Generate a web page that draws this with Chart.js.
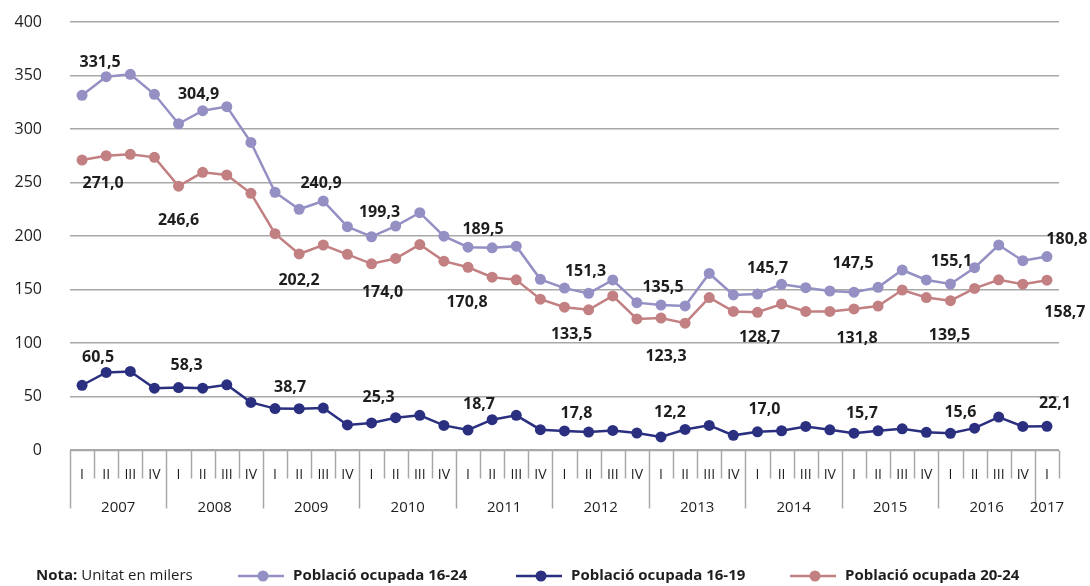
<!DOCTYPE html>
<html>
<head>
<meta charset="utf-8">
<script src="https://cdn.jsdelivr.net/npm/chart.js@4.4.1/dist/chart.umd.min.js"></script>
<style>
  html, body { margin: 0; padding: 0; background: #ffffff; }
  #wrap { width: 1090px; height: 586px; }
</style>
</head>
<body>
<div id="wrap"><canvas id="c" width="1090" height="586"></canvas></div>
<script>
// ---------- DATA ----------
const quarterLabels = [
  'I','II','III','IV', 'I','II','III','IV', 'I','II','III','IV', 'I','II','III','IV',
  'I','II','III','IV', 'I','II','III','IV', 'I','II','III','IV', 'I','II','III','IV',
  'I','II','III','IV', 'I','II','III','IV', 'I'
];
const yearLabels = ['2007','2008','2009','2010','2011','2012','2013','2014','2015','2016','2017'];

const seriesNames = ['Població ocupada 16-24', 'Població ocupada 16-19', 'Població ocupada 20-24'];

const ocupada1624 = [
  331.5, 348.9, 351.1, 332.4, 304.9, 317.1, 320.9, 287.5,
  240.9, 225.0, 232.7, 208.7, 199.3, 209.3, 221.8, 199.8,
  189.5, 189.0, 190.5, 159.5, 151.3, 146.4, 158.9, 137.7,
  135.5, 134.6, 165.0, 144.9, 145.7, 154.8, 151.7, 148.6,
  147.5, 152.0, 168.2, 158.9, 155.1, 170.4, 191.6, 176.9,
  180.8
];
const ocupada1619 = [
  60.5, 72.5, 73.4, 57.8, 58.3, 57.8, 60.9, 44.5,
  38.7, 38.6, 39.2, 23.4, 25.3, 30.2, 32.4, 23.0,
  18.7, 28.3, 32.4, 19.0, 17.8, 16.8, 18.3, 15.8,
  12.2, 19.2, 23.0, 13.7, 17.0, 18.0, 22.0, 18.9,
  15.7, 18.0, 19.8, 16.5, 15.6, 20.4, 30.8, 22.0,
  22.1
];
const ocupada2024 = [
  271.0, 275.0, 276.3, 273.5, 246.6, 259.5, 257.0, 239.9,
  202.2, 183.2, 191.6, 182.9, 174.0, 179.0, 192.0, 176.5,
  170.8, 161.5, 159.0, 141.0, 133.5, 131.0, 144.0, 122.5,
  123.3, 118.5, 142.5, 129.5, 128.7, 136.5, 129.5, 129.5,
  131.8, 134.5, 149.5, 142.5, 139.5, 151.0, 159.0, 155.0,
  158.7
];

const yTicks = { min: 0, max: 400, step: 50 };

// ---------- STYLE ----------
const COLORS = ['#9490c4', '#2a307f', '#c28083'];
const GRID = '#a8a8a8';
const TEXT = '#1e1e1e';
const FONT = "'Open Sans', 'Noto Sans', sans-serif";

// label placement offsets (px, relative to the point) for labelled quarters (every "I")
const labelOffsets = [
  [[18,-33],[20,-29],[46,-9],[8,-24],[15,-18],[21,-17],[2,-18],[10,-26],[-1,-29],[1,-23],[20,-17]],
  [[16,-28],[8,-22],[15,-21],[7,-25],[11,-26],[12,-18],[9,-25],[7,-22],[8,-20],[10,-21],[8,-23]],
  [[21,23],[0,34],[24,47],[11,29],[-1,35],[7,27],[5,38],[2,25],[3,29],[-1,35],[18,32]]
];

Chart.defaults.font.family = FONT;

const fmt = v => v.toFixed(1).replace('.', ',');

const customPlugin = {
  id: 'custom',
  afterDatasetsDraw(chart) {
    const ctx = chart.ctx;
    const xs = chart.scales.x;
    const area = chart.chartArea;
    const n = quarterLabels.length;
    const catW = (xs.getPixelForValue(1) - xs.getPixelForValue(0));
    const axisY = Math.round(area.bottom) + 0.5;

    ctx.save();
    // axis line
    ctx.strokeStyle = GRID;
    ctx.lineWidth = 1.5;
    ctx.beginPath();
    ctx.moveTo(xs.getPixelForValue(0) - catW / 2, axisY);
    ctx.lineTo(xs.getPixelForValue(n - 1) + catW / 2, axisY);
    ctx.stroke();

    // tick marks on category boundaries
    for (let i = 0; i <= n; i++) {
      const x = Math.round(xs.getPixelForValue(0) - catW / 2 + i * catW) + 0.5;
      const isYear = (i % 4 === 0) && i < n;
      ctx.beginPath();
      ctx.moveTo(x, axisY);
      ctx.lineTo(x, isYear ? axisY + 58 : axisY + 28);
      ctx.stroke();
    }

    // quarter labels
    ctx.fillStyle = TEXT;
    ctx.font = '14px ' + FONT;
    ctx.textAlign = 'center';
    ctx.textBaseline = 'middle';
    for (let i = 0; i < n; i++) {
      ctx.fillText(quarterLabels[i], xs.getPixelForValue(i), axisY + 25);
    }
    // year labels
    ctx.font = '15px ' + FONT;
    yearLabels.forEach((y, k) => {
      const first = k * 4;
      const last = Math.min(first + 3, n - 1);
      const cx = (xs.getPixelForValue(first) + xs.getPixelForValue(last)) / 2;
      ctx.fillText(y, cx, axisY + 57);
    });

    // data labels
    ctx.font = 'bold 16px ' + FONT;
    chart.data.datasets.forEach((ds, di) => {
      const meta = chart.getDatasetMeta(di);
      let k = 0;
      ds.data.forEach((v, i) => {
        if (quarterLabels[i] !== 'I') return;
        const pt = meta.data[i];
        const off = labelOffsets[di][k] || [0, -20];
        ctx.fillText(fmt(v), pt.x + off[0], pt.y + off[1]);
        k++;
      });
    });

    // legend / note
    const ly = 576;
    ctx.textAlign = 'left';
    ctx.font = 'bold 15px ' + FONT;
    ctx.fillText('Nota:', 36, ly);
    const w = ctx.measureText('Nota: ').width;
    ctx.font = '15px ' + FONT;
    ctx.fillText('Unitat en milers', 36 + w, ly);

    const items = [
      { x: 238, idx: 0 },
      { x: 516, idx: 1 },
      { x: 790, idx: 2 }
    ];
    items.forEach(it => {
      const c = COLORS[it.idx];
      ctx.strokeStyle = c;
      ctx.lineWidth = 2.5;
      ctx.beginPath();
      ctx.moveTo(it.x, ly);
      ctx.lineTo(it.x + 46, ly);
      ctx.stroke();
      ctx.fillStyle = c;
      ctx.beginPath();
      ctx.arc(it.x + 25, ly, 5.5, 0, Math.PI * 2);
      ctx.fill();
      ctx.fillStyle = TEXT;
      ctx.font = 'bold 15px ' + FONT;
      ctx.fillText(seriesNames[it.idx], it.x + 55, ly);
    });
    ctx.restore();
  }
};

const mk = (label, data, color, order) => ({
  label, data,
  borderColor: color,
  backgroundColor: color,
  pointBackgroundColor: color,
  pointBorderColor: color,
  pointBorderWidth: 0,
  pointRadius: 5.5,
  borderWidth: 2.5,
  tension: 0,
  order
});

new Chart(document.getElementById('c'), {
  type: 'line',
  data: {
    labels: quarterLabels,
    datasets: [
      mk(seriesNames[0], ocupada1624, COLORS[0], 1),
      mk(seriesNames[1], ocupada1619, COLORS[1], 2),
      mk(seriesNames[2], ocupada2024, COLORS[2], 3)
    ]
  },
  options: {
    responsive: false,
    devicePixelRatio: 1,
    animation: false,
    layout: { padding: { top: 22, right: 31, left: 0, bottom: 0 } },
    plugins: { legend: { display: false }, tooltip: { enabled: false } },
    scales: {
      x: {
        type: 'category',
        offset: true,
        grid: { display: false },
        border: { display: false },
        ticks: { display: false },
        afterFit: s => { s.height = 136; }
      },
      y: {
        min: yTicks.min,
        max: yTicks.max,
        ticks: { stepSize: yTicks.step, color: TEXT, font: { size: 16 }, padding: 28 },
        grid: { color: GRID, lineWidth: 1.5, drawTicks: false },
        border: { display: false },
        afterFit: s => { s.width = 70; s.paddingTop = 0; s.paddingBottom = 0; }
      }
    }
  },
  plugins: [customPlugin]
});
</script>
</body>
</html>
